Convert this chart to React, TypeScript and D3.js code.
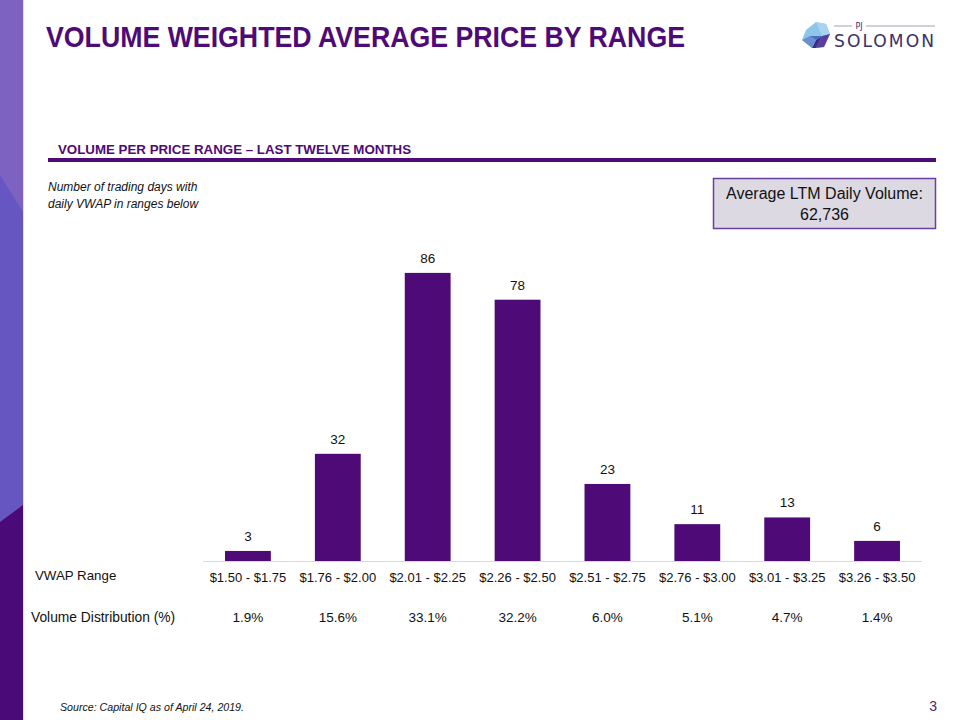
import React from "react";
import * as d3 from "d3";

const categories = ["$1.50 - $1.75", "$1.76 - $2.00", "$2.01 - $2.25", "$2.26 - $2.50", "$2.51 - $2.75", "$2.76 - $3.00", "$3.01 - $3.25", "$3.26 - $3.50"];
const tradingDays = [3, 32, 86, 78, 23, 11, 13, 6];
const volumeDistribution = ["1.9%", "15.6%", "33.1%", "32.2%", "6.0%", "5.1%", "4.7%", "1.4%"];

const PURPLE = "#4e0a77";
const FONT = "Liberation Sans, Arial, sans-serif";
const NARROW = "Liberation Sans Narrow, Arial Narrow, Liberation Sans, sans-serif";

export default function App() {
  const W = 960, H = 720;
  const x = d3.scaleBand<string>().domain(categories).range([203, 922]).paddingInner(0.49).paddingOuter(0.245);
  const y = d3.scaleLinear().domain([0, 100]).range([561, 226]);

  return (
    <svg width={W} height={H} style={{ position: "absolute", left: 0, top: 0, background: "#fff" }} fontFamily={FONT}>
      {/* left decorative band */}
      <rect x={0} y={0} width={23} height={720} fill="#6656c2" />
      <polygon points="0,0 23,0 23,212 0,175" fill="#7d62c2" />
      <polygon points="0,522 23,505 23,720 0,720" fill="#4a0a78" />
      <line x1={23.5} y1={0} x2={23.5} y2={720} stroke="#e6ddf2" strokeWidth={1} />

      {/* title */}
      <text x={46} y={47} fontFamily={NARROW} fontWeight="bold" fontSize={30} fill={PURPLE} textLength={639} lengthAdjust="spacingAndGlyphs">
        VOLUME WEIGHTED AVERAGE PRICE BY RANGE
      </text>

      {/* logo */}
      <g>
        <polygon points="806,30 816,22 826,24 830,34 824,47 812,48 802,40" fill="#8ec6ea" />
        <polygon points="816,22 826,24 830,34 822,36" fill="#a8d4f0" />
        <polygon points="822,36 830,34 824,47 816,48" fill="#5b3f9e" />
        <polygon points="812,48 816,40 822,36 816,48" fill="#3d2c85" />
        <polygon points="802,40 810,36 816,40 812,48" fill="#6a8fd0" />
        <polygon points="810,36 822,36 816,40" fill="#4a6dc0" />
        <line x1={834} y1={26} x2={852} y2={26} stroke="#8a8aa0" strokeWidth={0.8} />
        <line x1={866} y1={26} x2={935} y2={26} stroke="#8a8aa0" strokeWidth={0.8} />
        <text x={859} y={29} fontSize={8} fill="#3b3168" textAnchor="middle" fontFamily="DejaVu Sans, sans-serif">PJ</text>
        <text x={834} y={47} fontSize={17} fill="#3b3168" fontFamily="DejaVu Sans, sans-serif" textLength={102} lengthAdjust="spacingAndGlyphs" letterSpacing={2}>SOLOMON</text>
      </g>

      {/* subtitle */}
      <text x={58} y={154} fontWeight="bold" fontSize={12.5} fill={PURPLE} textLength={353} lengthAdjust="spacingAndGlyphs">
        VOLUME PER PRICE RANGE – LAST TWELVE MONTHS
      </text>
      <rect x={48} y={158} width={888} height={4} fill={PURPLE} />

      {/* note */}
      <text x={48} y={191} fontStyle="italic" fontSize={12} fill="#111">Number of trading days with</text>
      <text x={48} y={208} fontStyle="italic" fontSize={12} fill="#111">daily VWAP in ranges below</text>

      {/* info box */}
      <rect x={713.5} y={178.5} width={222} height={50} fill="#dcd9e3" stroke="#6b3f9c" strokeWidth={1.5} />
      <text x={824.5} y={199} textAnchor="middle" fontSize={16} fill="#111">Average LTM Daily Volume:</text>
      <text x={824.5} y={220} textAnchor="middle" fontSize={16} fill="#111">62,736</text>

      {/* bars */}
      {categories.map((c, i) => (
        <g key={c}>
          <rect x={x(c)} y={y(tradingDays[i])} width={x.bandwidth()} height={y(0) - y(tradingDays[i])} fill={PURPLE} />
          <text x={(x(c) as number) + x.bandwidth() / 2} y={y(tradingDays[i]) - 10} textAnchor="middle" fontSize={13.5} fill="#111">
            {tradingDays[i]}
          </text>
          <text x={(x(c) as number) + x.bandwidth() / 2} y={582} textAnchor="middle" fontSize={13} fill="#111">{c}</text>
          <text x={(x(c) as number) + x.bandwidth() / 2} y={622} textAnchor="middle" fontSize={13.5} fill="#111">{volumeDistribution[i]}</text>
        </g>
      ))}
      <line x1={203} x2={922} y1={561.5} y2={561.5} stroke="#d9d9d9" strokeWidth={1} />

      <text x={35} y={580} fontSize={13.3} fill="#111">VWAP Range</text>
      <text x={31} y={622} fontSize={13.8} fill="#111">Volume Distribution (%)</text>

      {/* footer */}
      <text x={60} y={711} fontStyle="italic" fontSize={11} fill="#111" fontFamily={NARROW} textLength={184} lengthAdjust="spacingAndGlyphs">
        Source: Capital IQ as of April 24, 2019.
      </text>
      <text x={937} y={711} textAnchor="end" fontSize={14} fill="#4b2a6b" fontFamily={NARROW}>3</text>
    </svg>
  );
}
